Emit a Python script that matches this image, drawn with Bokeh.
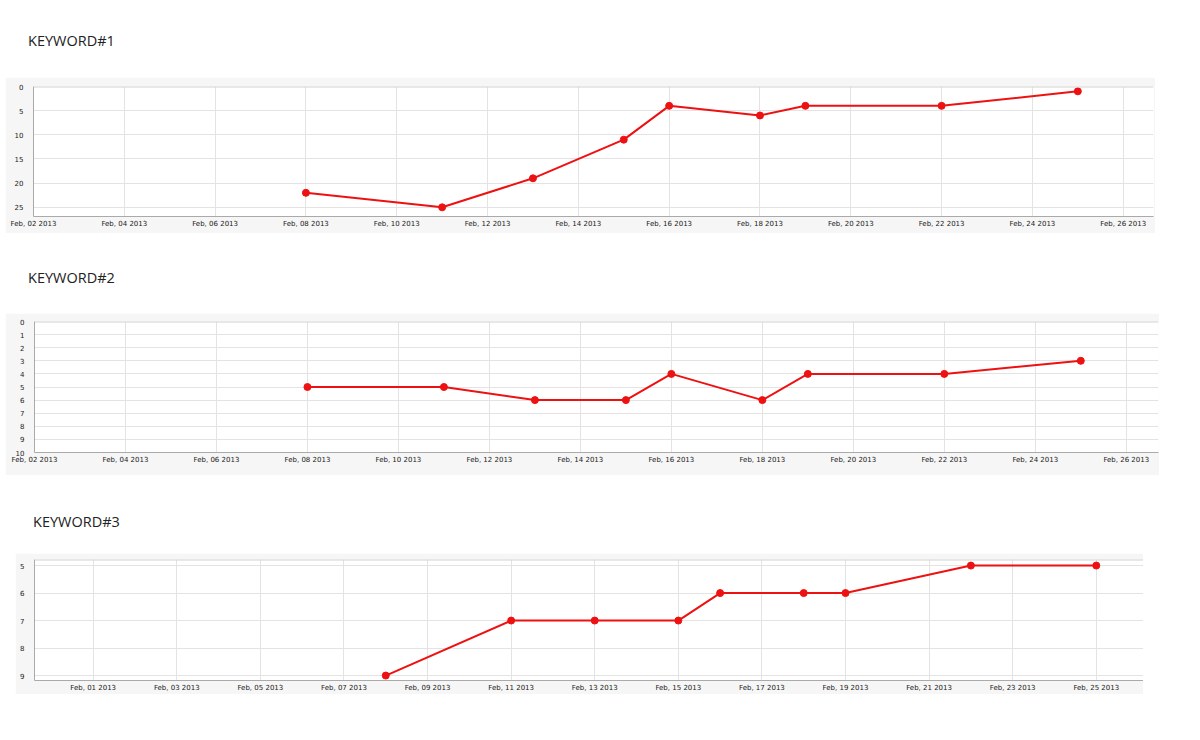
from datetime import datetime
import pandas as pd
from bokeh.plotting import figure
from bokeh.models import (ColumnDataSource, DaysTicker, DatetimeTickFormatter,
                          Range1d, SingleIntervalTicker, Span, Div)
from bokeh.layouts import column
from bokeh.embed import file_html
from bokeh.resources import INLINE

# ---- data ----
titles = ["KEYWORD#1", "KEYWORD#2", "KEYWORD#3"]

dates1 = ["2013-02-08", "2013-02-11", "2013-02-13", "2013-02-15", "2013-02-16",
          "2013-02-18", "2013-02-19", "2013-02-22", "2013-02-25"]
rank1 = [22, 25, 19, 11, 4, 6, 4, 4, 1]

dates2 = ["2013-02-08", "2013-02-11", "2013-02-13", "2013-02-15", "2013-02-16",
          "2013-02-18", "2013-02-19", "2013-02-22", "2013-02-25"]
rank2 = [5, 5, 6, 6, 4, 6, 4, 4, 3]

dates3 = ["2013-02-08", "2013-02-11", "2013-02-13", "2013-02-15", "2013-02-16",
          "2013-02-18", "2013-02-19", "2013-02-22", "2013-02-25"]
rank3 = [9, 7, 7, 7, 6, 6, 6, 5, 5]

tick_days_even = list(range(2, 31, 2))
tick_days_odd = list(range(1, 30, 2))

LINE = "#ee1111"
PANEL = "#f6f6f6"
GRID = "#e3e3e3"
FMT = "%b, %d %Y"


def make_fig(dates, ranks, xr, yr, days, interval, width, height, borders, margin):
    src = ColumnDataSource(dict(x=pd.to_datetime(dates), y=ranks))
    bl, br, bt, bb = borders
    p = figure(width=width, height=height, x_axis_type="datetime",
               x_range=Range1d(*xr), y_range=Range1d(*yr),
               output_backend="svg", toolbar_location=None,
               min_border_left=bl, min_border_right=br,
               min_border_top=bt, min_border_bottom=bb,
               background_fill_color="white", border_fill_color=PANEL,
               outline_line_color=None, margin=margin)
    p.xaxis.ticker = DaysTicker(days=days)
    p.xaxis.formatter = DatetimeTickFormatter(
        milliseconds=FMT, seconds=FMT, minsec=FMT, minutes=FMT, hourmin=FMT,
        hours=FMT, days=FMT, months=FMT, years=FMT)
    p.yaxis.ticker = SingleIntervalTicker(interval=interval)
    for ax in (p.xaxis, p.yaxis):
        ax.major_tick_line_color = None
        ax.minor_tick_line_color = None
        ax.major_tick_out = 0
        ax.major_tick_in = 0
        ax.axis_line_color = "#aaaaaa"
        ax.major_label_text_font = "DejaVu Sans"
        ax.major_label_text_font_size = "7px"
        ax.major_label_text_color = "#1a1a1a"
    p.xaxis.major_label_standoff = 3
    p.yaxis.major_label_standoff = 6
    p.xgrid.grid_line_color = GRID
    p.ygrid.grid_line_color = GRID
    p.add_layout(Span(location=yr[1], dimension="width",
                      line_color="#d2d2d2", line_width=2))
    p.line("x", "y", source=src, line_color=LINE, line_width=2)
    p.scatter("x", "y", source=src, size=7, color=LINE)
    return p


def title_div(text, height, top, left):
    html = (f'<div style="position:relative; top:{top}px; left:{left}px; '
            f'font-family:\'Open Sans\'; font-size:14.5px; line-height:20px; '
            f'color:#222; white-space:nowrap;">{text}</div>')
    return Div(text=html, width=400, height=height, margin=(0, 0, 0, 0))


f1 = make_fig(dates1, rank1,
              (datetime(2013, 2, 2), datetime(2013, 2, 26, 16)), (26.9, 0),
              tick_days_even, 5, 1150, 156, (28, 2, 9, 17), (0, 0, 0, 5))
f2 = make_fig(dates2, rank2,
              (datetime(2013, 2, 2), datetime(2013, 2, 26, 17)), (10, 0),
              tick_days_even, 1, 1154, 162, (29, 1, 8, 23), (0, 0, 0, 5))
f3 = make_fig(dates3, rank3,
              (datetime(2013, 1, 30, 14, 18), datetime(2013, 2, 26, 3, 7)), (9.18, 4.78),
              tick_days_odd, 1, 1128, 141, (19, 0, 6, 13), (0, 0, 0, 15))

layout = column(column(title_div(titles[0], 77, 31, 28), f1, margin=(0, 0, 0, 0)),
                column(title_div(titles[1], 80, 35, 28), f2, margin=(0, 0, 0, 0)),
                column(title_div(titles[2], 78, 37, 33), f3, margin=(0, 0, 0, 0)),
                spacing=0, margin=(0, 0, 0, 0))

open("out.html", "w").write(file_html(layout, INLINE))
